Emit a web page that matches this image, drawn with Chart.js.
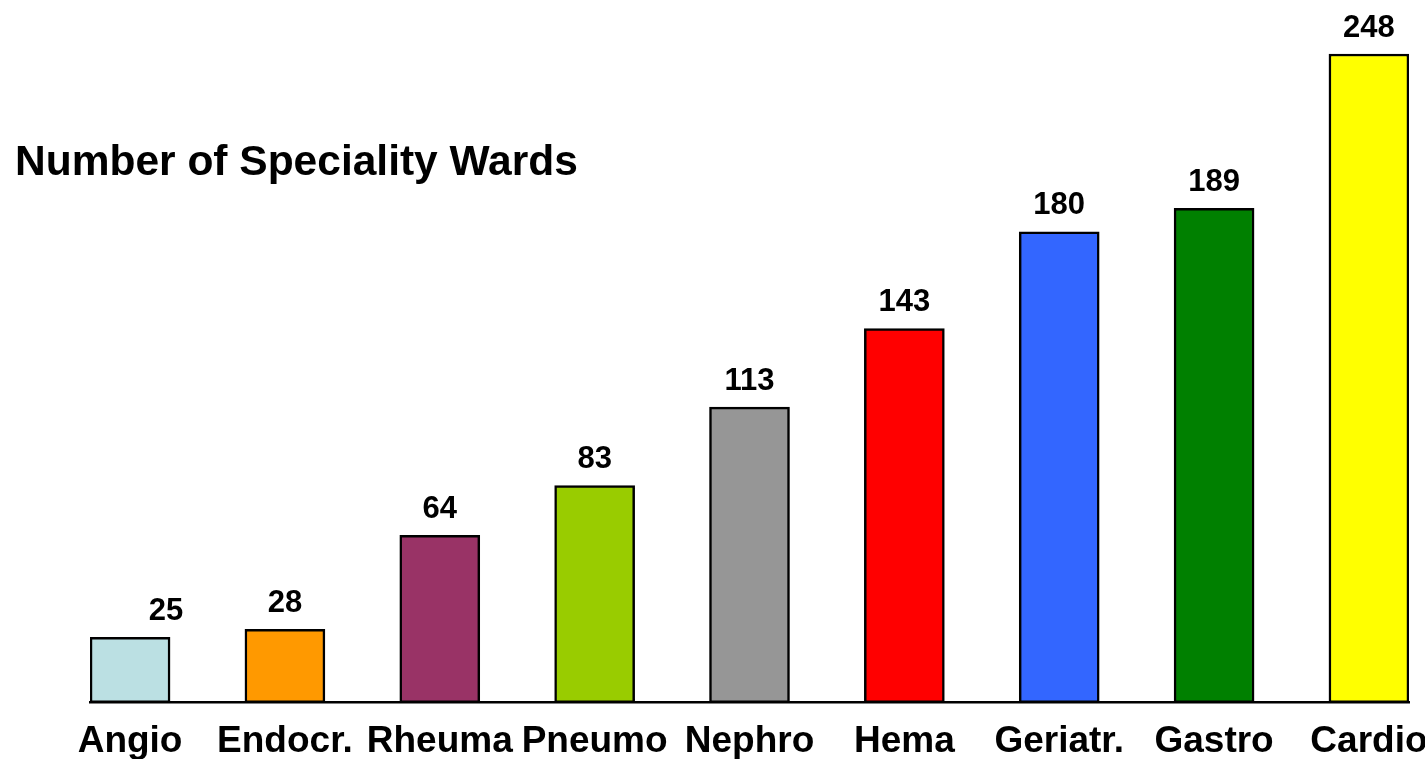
<!DOCTYPE html>
<html>
<head>
<meta charset="utf-8">
<script src="https://cdn.jsdelivr.net/npm/chart.js@4/dist/chart.umd.min.js"></script>
<style>
  html, body { margin: 0; padding: 0; background: #fff; overflow: hidden; }
  #wrap { position: relative; width: 1425px; height: 759px; }
  #title { position: absolute; left: 15px; top: 137px; margin: 0;
           font: bold 42.5px "Liberation Sans", Arial, sans-serif; color: #000; white-space: nowrap; }
</style>
</head>
<body>
<div id="wrap">
  <canvas id="c" width="1425" height="759"></canvas>
  <div id="title">Number of Speciality Wards</div>
</div>
<script>
const categories = ["Angio", "Endocr.", "Rheuma", "Pneumo", "Nephro", "Hema", "Geriatr.", "Gastro", "Cardio"];
const wards = [25, 28, 64, 83, 113, 143, 180, 189, 248];
const barColors = ["#BBE0E3", "#FF9900", "#993366", "#99CC00", "#969696", "#FF0000", "#3366FF", "#008000", "#FFFF00"];

const valueLabels = {
  id: 'valueLabels',
  afterDatasetsDraw(chart, args, opts) {
    const ctx = chart.ctx;
    const meta = chart.getDatasetMeta(0);
    ctx.save();
    ctx.font = 'bold 31px "Liberation Sans", Arial, sans-serif';
    ctx.fillStyle = '#000';
    ctx.textAlign = 'center';
    ctx.textBaseline = 'middle';
    meta.data.forEach((bar, i) => {
      const dx = (opts.shiftX && opts.shiftX[i]) || 0;
      ctx.fillText(String(wards[i]), bar.x + dx, bar.y - 26);
    });
    ctx.restore();
  }
};

new Chart(document.getElementById('c'), {
  type: 'bar',
  data: {
    datasets: [{
      data: wards.map((v, i) => ({ x: i, y: v })),
      backgroundColor: barColors,
      borderColor: '#000',
      borderWidth: 2.5,
      borderSkipped: false,
      barThickness: 80
    }]
  },
  plugins: [valueLabels],
  options: {
    responsive: false,
    animation: false,
    layout: { padding: { left: 90, right: 16, top: 20, bottom: -22 } },
    plugins: {
      legend: { display: false },
      tooltip: { enabled: false },
      valueLabels: { shiftX: { 0: 36 } }
    },
    scales: {
      x: {
        type: 'linear',
        offset: false,
        min: -0.2587,
        max: 8.2587,
        afterBuildTicks: axis => { axis.ticks = categories.map((c, i) => ({ value: i })); },
        afterFit: axis => { axis.paddingLeft = 0; axis.paddingRight = 0; },
        grid: { display: false, drawTicks: false },
        border: { display: true, color: '#000', width: 2.5 },
        ticks: {
          autoSkip: false,
          maxRotation: 0,
          padding: 17,
          color: '#000',
          font: { family: '"Liberation Sans", Arial, sans-serif', size: 37, weight: 'bold' },
          callback: v => categories[v]
        }
      },
      y: {
        display: false,
        min: 0,
        max: 261
      }
    }
  }
});
</script>
</body>
</html>
